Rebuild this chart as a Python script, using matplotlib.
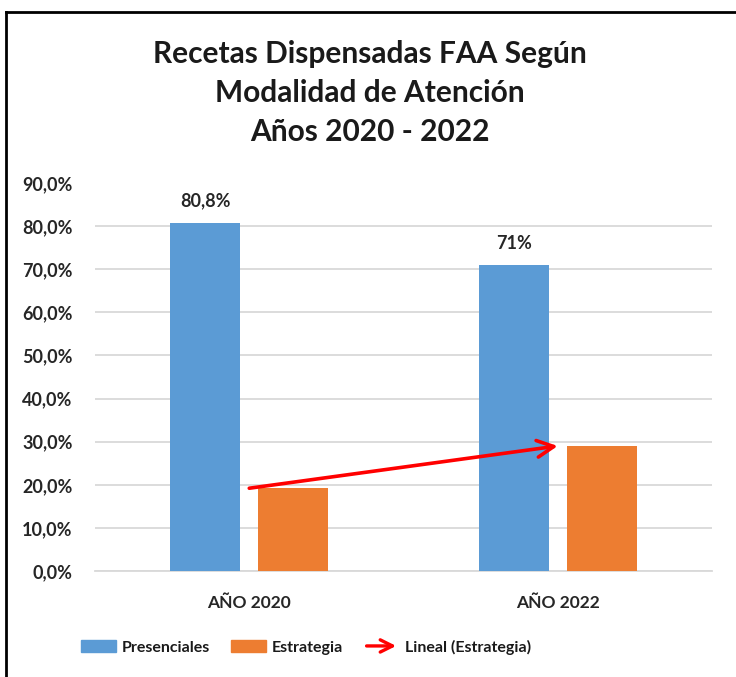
import numpy as np
import matplotlib.pyplot as plt
from matplotlib.lines import Line2D
from matplotlib.patches import Patch
from matplotlib.legend_handler import HandlerPatch
import matplotlib.patches as mpatches

# DATA
categories = ["AÑO 2020", "AÑO 2022"]
presenciales = [80.8, 71.0]
estrategia = [19.2, 29.0]
pres_labels = ["80,8%", "71%"]
y_ticks = [0, 10, 20, 30, 40, 50, 60, 70, 80, 90]

BLUE = "#5B9BD5"
ORANGE = "#ED7D31"
RED = "#FF0000"
TXT = "#262626"

plt.rcParams["font.family"] = ["Lato", "DejaVu Sans"]

fig = plt.figure(figsize=(7.36, 6.77), dpi=100)
ax = fig.add_axes([95 / 736, 1 - 571 / 677, 617 / 736, 388 / 677])

x = np.arange(len(categories))
w = 0.227
off = 0.143
ax.bar(x - off, presenciales, w, color=BLUE, zorder=3)
ax.bar(x + off, estrategia, w, color=ORANGE, zorder=3)

for xi, v, lbl in zip(x, presenciales, pres_labels):
    ax.text(xi - off, v + 3, lbl, ha="center", va="bottom",
            fontsize=13, fontweight="bold", color=TXT)

# linear trend of Estrategia, drawn as an arrow
coef = np.polyfit(x, estrategia, 1)
trend = np.polyval(coef, x)
ax.annotate("", xy=(x[-1], trend[-1]), xytext=(x[0], trend[0]),
            arrowprops=dict(arrowstyle="->", color=RED, lw=2.6,
                            mutation_scale=30, shrinkA=0, shrinkB=0),
            zorder=4)

ax.set_xlim(-0.5, 1.5)
ax.set_ylim(0, 90)
ax.set_yticks(y_ticks)
ax.set_yticklabels([f"{t:.1f}%".replace(".", ",") for t in y_ticks])
ax.set_xticks(x)
ax.set_xticklabels(categories)
for lbl in ax.get_yticklabels():
    lbl.set_fontweight("bold")
    lbl.set_fontsize(13)
    lbl.set_color(TXT)
for lbl in ax.get_xticklabels():
    lbl.set_fontweight("bold")
    lbl.set_fontsize(12.5)
    lbl.set_color(TXT)
ax.tick_params(axis="both", length=0)
ax.tick_params(axis="y", pad=16)
ax.tick_params(axis="x", pad=17)

ax.yaxis.grid(True, color="#D9D9D9", linewidth=1.3, zorder=0)
ax.get_ygridlines()[-1].set_visible(False)
for s in ["top", "right", "left"]:
    ax.spines[s].set_visible(False)
ax.spines["bottom"].set_color("#D9D9D9")
ax.spines["bottom"].set_linewidth(1.3)

fig.text(0.503, 1 - 93 / 677,
         "Recetas Dispensadas FAA Según\nModalidad de Atención\nAños 2020 - 2022",
         ha="center", va="center", fontsize=21.5, fontweight="bold",
         linespacing=1.47, color="#1a1a1a")


class ArrowHandler(HandlerPatch):
    def create_artists(self, legend, orig_handle, xdescent, ydescent,
                       width, height, fontsize, trans):
        a = mpatches.FancyArrowPatch((0, height / 2), (width, height / 2),
                                     arrowstyle="->", mutation_scale=22,
                                     color=RED, lw=2.4, transform=trans)
        return [a]


handles = [Patch(color=BLUE), Patch(color=ORANGE),
           mpatches.FancyArrowPatch((0, 0), (1, 0))]
labels = ["Presenciales", "Estrategia", "Lineal (Estrategia)"]
leg = fig.legend(handles, labels, loc="center", ncol=3,
                 bbox_to_anchor=(306 / 736, 1 - 647 / 677), frameon=False,
                 prop={"size": 11.5, "weight": "bold"},
                 handlelength=2.2, handleheight=0.7,
                 columnspacing=1.3, handletextpad=0.35,
                 handler_map={mpatches.FancyArrowPatch: ArrowHandler()})
for t in leg.get_texts():
    t.set_color("#1a1a1a")

# frame: top and left border lines
fig.add_artist(Line2D([6 / 736, 1], [1 - 12 / 677, 1 - 12 / 677],
                      color="black", lw=2, transform=fig.transFigure))
fig.add_artist(Line2D([6 / 736, 6 / 736], [0, 1 - 12 / 677],
                      color="black", lw=2, transform=fig.transFigure))

fig.savefig("out.png", dpi=100)
